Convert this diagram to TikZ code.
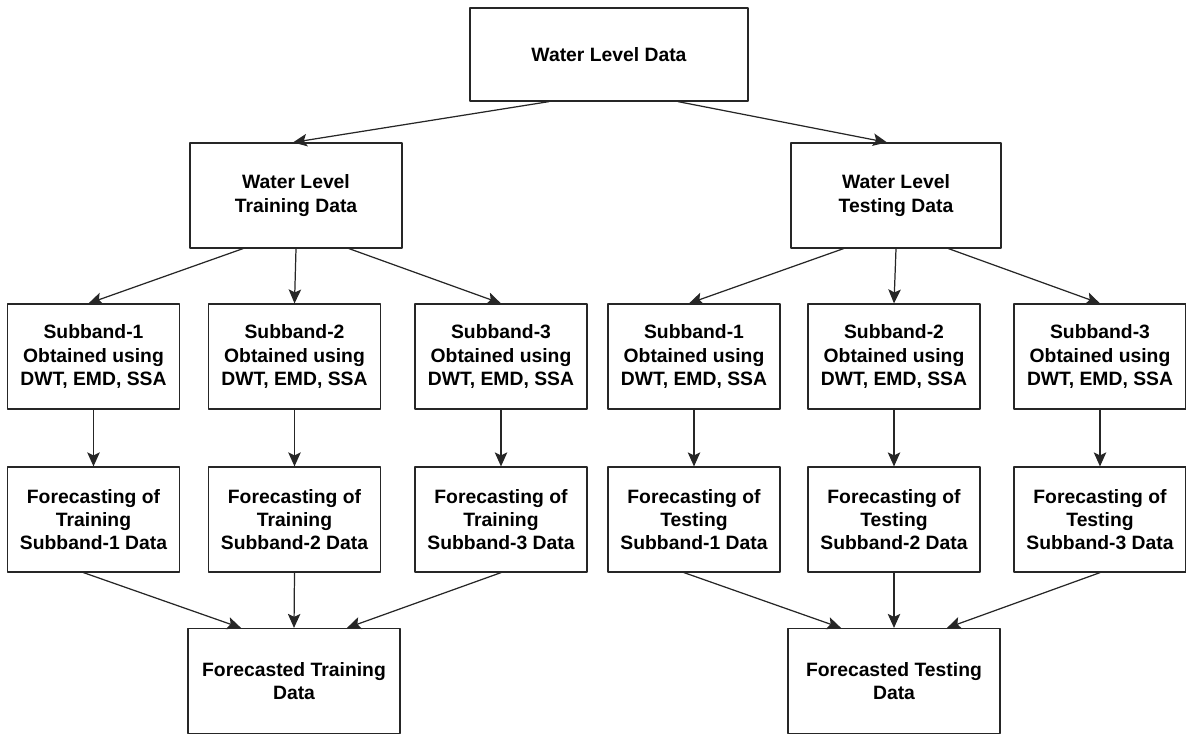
\documentclass[tikz,border=0pt]{standalone}
\usepackage{fontspec}
\setmainfont{Liberation Sans}
\usetikzlibrary{arrows.meta}
\tikzset{
	box/.style={draw=black!85, line width=0.7pt, rectangle, align=center, inner sep=0pt,
		font=\fontsize{11}{13.2}\selectfont\bfseries},
	wide/.style={box, minimum width=4.24cm, minimum height=2.1cm},
	sub/.style={box, minimum width=3.44cm, minimum height=2.1cm},
	flow/.style={-{Stealth[length=2.8mm,width=2.5mm,inset=0.6mm]}, draw=black!85, line width=0.7pt}
}
\begin{document}
\begin{tikzpicture}[x=0.02cm, y=-0.02cm, line join=round, line cap=round]
		\useasboundingbox (0,0) rectangle (1186,735);
		% top level
		\node[box, minimum width=5.56cm, minimum height=1.86cm] (wld) at (609,54.5) {Water Level Data};
		\node[wide] (trn) at (296,195.5) {Water Level\\Training Data};
		\node[wide, minimum width=4.2cm] (tst) at (896,195.5) {Water Level\\Testing Data};
		% subbands
		\node[sub] (sa1) at (93.5,356.5) {Subband-1\\Obtained using\\DWT, EMD, SSA};
		\node[sub] (sa2) at (294.5,356.5) {Subband-2\\Obtained using\\DWT, EMD, SSA};
		\node[sub] (sa3) at (501,356.5) {Subband-3\\Obtained using\\DWT, EMD, SSA};
		\node[sub] (sb1) at (694,356.5) {Subband-1\\Obtained using\\DWT, EMD, SSA};
		\node[sub] (sb2) at (894,356.5) {Subband-2\\Obtained using\\DWT, EMD, SSA};
		\node[sub] (sb3) at (1100,356.5) {Subband-3\\Obtained using\\DWT, EMD, SSA};
		% forecasting
		\node[sub] (fa1) at (93.5,519.5) {Forecasting of\\Training\\Subband-1 Data};
		\node[sub] (fa2) at (294.5,519.5) {Forecasting of\\Training\\Subband-2 Data};
		\node[sub] (fa3) at (501,519.5) {Forecasting of\\Training\\Subband-3 Data};
		\node[sub] (fb1) at (694,519.5) {Forecasting of\\Testing\\Subband-1 Data};
		\node[sub] (fb2) at (894,519.5) {Forecasting of\\Testing\\Subband-2 Data};
		\node[sub] (fb3) at (1100,519.5) {Forecasting of\\Testing\\Subband-3 Data};
		% results
		\node[wide] (rtrn) at (294,681) {Forecasted Training\\Data};
		\node[wide] (rtst) at (894,681) {Forecasted Testing\\Data};
		% arrows
		\draw[flow] ([xshift=-1.2cm]wld.south) -- ([xshift=-0.06cm]trn.north);
		\draw[flow] ([xshift=1.38cm]wld.south) -- ([xshift=-0.18cm]tst.north);
		\draw[flow] ([xshift=-1.06cm]trn.south) -- ([xshift=-0.1cm]sa1.north);
		\draw[flow] (trn.south) -- (sa2.north);
		\draw[flow] ([xshift=1.06cm]trn.south) -- (sa3.north);
		\draw[flow] ([xshift=-1.05cm]tst.south) -- ([xshift=-0.1cm]sb1.north);
		\draw[flow] (tst.south) -- (sb2.north);
		\draw[flow] ([xshift=1.05cm]tst.south) -- (sb3.north);
		\draw[flow] (sa1) -- (fa1); \draw[flow] (sa2) -- (fa2); \draw[flow] (sa3) -- (fa3);
		\draw[flow] (sb1) -- (fb1); \draw[flow] (sb2) -- (fb2); \draw[flow] (sb3) -- (fb3);
		\draw[flow] ([xshift=-0.2cm]fa1.south) -- ([xshift=-1.06cm]rtrn.north);
		\draw[flow] (fa2.south) -- (rtrn.north);
		\draw[flow] (fa3.south) -- ([xshift=1.06cm]rtrn.north);
		\draw[flow] ([xshift=-0.2cm]fb1.south) -- ([xshift=-1.06cm]rtst.north);
		\draw[flow] (fb2.south) -- (rtst.north);
		\draw[flow] (fb3.south) -- ([xshift=1.06cm]rtst.north);
\end{tikzpicture}
\end{document}
